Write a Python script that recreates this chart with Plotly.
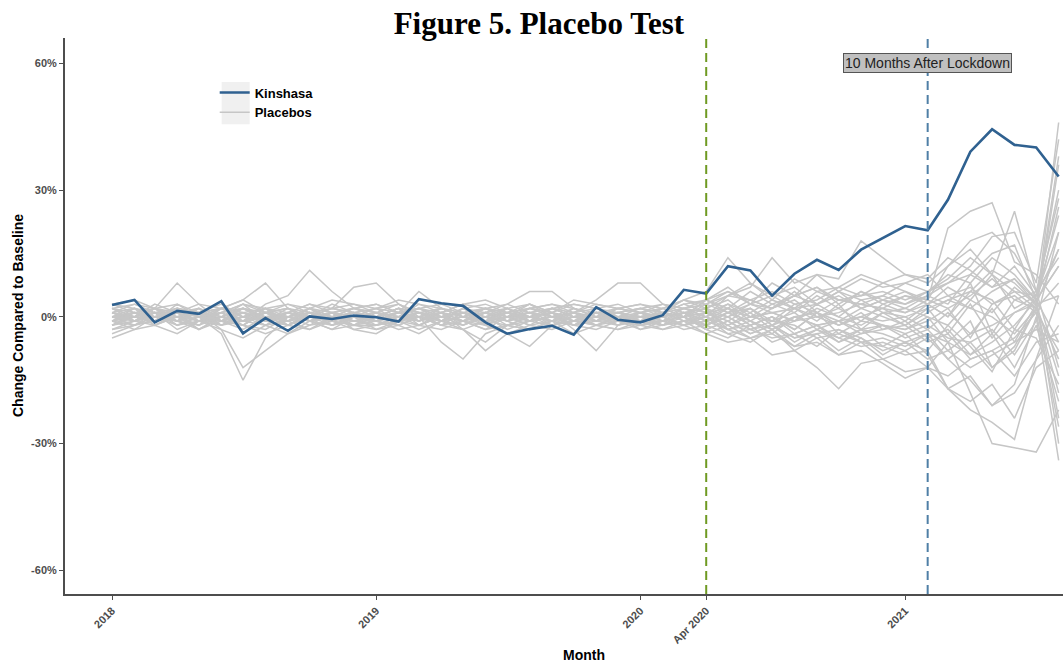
#!/usr/bin/env python3
# -*- coding: utf-8 -*-

"""
Figure 5. Placebo Test
Kinshasa vs. placebo units, monthly change compared to baseline (%).
"""

import pandas as pd
import plotly.graph_objects as go

# ---------- data ----------
MONTHS = pd.date_range("2018-01-01", periods=44, freq="MS")

KINSHASA = [
    2.8, 4.0, -1.3, 1.4, 0.7, 3.7, -3.9, -0.3, -3.3, 0.1, -0.5, 0.3,
    -0.1, -1.1, 4.2, 3.2, 2.6, -1.3, -4.0, -2.9, -2.1, -4.2, 2.3, -0.7,
    -1.3, 0.4, 6.4, 5.5, 12.0, 11.0, 5.0, 10.2, 13.5, 11.1, 15.9, 18.7,
    21.5, 20.5, 27.7, 39.1, 44.4, 40.7, 40.1, 33.2,
]

# placebo units (% change)
PLACEBOS = [
    [1, -1, 2, 0, -2, 1, 3, -1, 0, 2, -1, 1, 0, 2, -1, 1, 3, -2, 0, 1, -1, 2, 0, -2,
     1, 0, 2, 3, 1, 4, 2, 5, 3, 6, 4, 5, 3, 6, 8, 10, 7, 9, 4, 12],
    [-2, 0, 1, -3, -1, 2, 0, -2, 1, -1, -3, 0, 2, -1, 0, -2, 1, 0, -3, -1, 2, 0, 1, -1,
     -2, -1, 0, -3, -5, -2, -6, -4, -7, -3, -5, -8, -6, -4, -10, -6, -12, -8, 2, -18],
    [3, 2, 0, 1, 3, -1, 2, 1, -1, 0, 2, 3, 1, 0, 2, 3, 1, -1, 0, 2, 1, 3, 2, 0,
     2, 3, 1, 2, 4, 0, 3, 1, 5, 2, 6, 3, 5, 4, 12, 18, 20, 15, 6, 28],
    [0, 1, -1, 2, 0, -4, -15, -5, 0, 1, -2, 0, -1, 1, 0, -2, 1, 2, -1, 0, 1, -2, 0, 1,
     0, -2, 1, -3, -1, -4, -2, -5, -3, -6, -4, -2, -5, -3, -8, -4, -2, 1, 3, 5],
    [-3, -2, 0, -1, 1, -3, -12, -8, -4, -2, -1, -3, -2, 0, -1, 1, -2, 0, 1, -1, 0, -2, 1, 0,
     -1, 1, 0, 2, -3, -1, -4, 0, -2, -5, -3, -7, -4, -9, -17, -14, -21, -16, 0, -34],
    [2, 0, 3, 1, 2, 0, -1, 3, 5, 11, 6, 2, 1, 3, 0, 2, 0, 1, 2, 0, -1, 1, 3, 2,
     1, 2, 0, 4, 7, 3, 5, 2, 6, 4, 3, 5, 8, 6, 10, 8, 14, 10, 4, -6],
    [1, 3, 2, 8, 3, 2, 4, 8, 2, 1, 0, 2, 3, 1, 2, 0, -1, 2, 1, 3, 0, 1, 2, 1,
     0, 1, 3, 1, 0, 2, -1, 3, 1, -2, 0, 2, -1, 3, 0, 6, 4, -3, 5, 20],
    [-1, 2, 1, 0, -1, 1, 2, 0, 1, 3, 2, 7, 8, 3, 1, -1, 0, -2, 1, 2, 0, -1, 1, 0,
     -2, 0, 1, -1, 2, 0, 1, -1, 3, 0, -2, 1, 0, 2, 4, 2, 0, -4, 2, -10],
    [0, -2, -1, 1, -3, 0, -2, 1, -1, -3, 0, -1, -2, -1, 0, -6, -10, -4, -2, -3, -1, 0, -2, -1,
     -3, -1, -2, 0, -4, -6, -3, -8, -5, -9, -6, -10, -8, -12, -6, -18, -30, -31, -32, -22],
    [2, 1, -1, 0, 1, 2, 0, -1, 2, 0, 1, -2, 0, -1, 1, -2, -3, -8, -4, -7, -2, 0, 1, -1,
     1, -1, 0, 1, 3, -1, 2, 4, 0, 2, -1, 3, 1, 4, 2, -5, 3, 5, 1, -26],
    [-1, 0, 2, -2, 0, -1, 1, 2, -2, 0, -1, 1, 0, 2, -2, 0, -1, 1, -2, 0, 1, -3, -8, -2,
     0, -1, 2, 1, -2, 0, -1, 1, -3, -1, 0, -2, -3, -1, 2, 5, 9, 4, 2, 36],
    [1, -1, 0, 2, 1, -2, 0, 1, 2, -1, 0, 2, 1, 0, 3, 2, 0, 1, -1, 2, 3, 1, 4, 8,
     8, 3, 2, 0, 5, 8, 4, 9, 6, 7, 10, 8, 6, 4, 21, 25, 27, 13, 10, 3],
    [0, 2, -2, 1, -1, 0, 2, -1, 0, 1, -2, 0, -1, 1, 2, -1, 0, 2, 0, -2, -1, 1, 0, 2,
     3, 1, 4, 6, 14, 8, 5, 7, 3, 6, 2, 4, 3, 5, 8, 12, 19, 20, 8, 42],
    [-2, -1, 1, -1, 2, -1, -3, 0, -2, 1, 0, -1, -2, 0, -1, 1, -3, -1, 0, 1, -2, -1, 0, 1,
     -1, 2, 0, 3, 5, 7, 14, 8, 10, 6, 9, 7, 8, 10, 5, 2, 6, 9, 3, 16],
    [1, 0, -1, 3, 0, 2, 1, -2, 1, 0, 3, 1, 2, 1, -1, 0, 2, 3, 1, 0, 2, 1, -1, 1,
     0, 1, 3, 4, 6, 3, 8, 5, 10, 9, 18, 14, 10, 9, 14, 11, 7, 12, 5, 24],
    [-1, -3, 0, -2, -1, 1, -2, -3, 0, -1, -2, 0, -3, -1, -2, 0, -1, -3, -2, 0, -1, -2, -3, -1,
     -2, -3, -1, -4, -6, -5, -9, -8, -12, -17, -11, -10, -13, -12, -17, -20, -16, -24, -12, -8],
    [0, 1, -2, 0, 1, -1, 0, 2, -1, 1, 0, -2, 1, -2, 0, 1, -1, 0, 2, -1, 0, 1, -2, 0,
     -1, 0, -2, -1, -3, -5, -4, -7, -6, -9, -8, -11, -14.5, -12, -14, -10, -8, -14, -6, -4],
    [2, -1, 1, 0, -2, 2, 1, 0, -1, 2, 1, -1, 0, 2, 1, -1, 2, 0, 1, -1, 2, 0, -1, 1,
     2, 0, 1, 2, 0, 3, 1, -1, 2, 0, 4, 1, 2, 0, -2, 4, 1, 7, 3, -14],
    [-2, 1, 0, -1, 2, -2, -1, 1, 0, -2, 1, 0, -1, 0, -2, 1, 0, -1, 2, 0, -2, -1, 1, -2,
     -1, 1, -1, 0, -2, 1, -3, -1, 0, -2, 1, -3, -1, -5, -3, -9, -6, -2, 4, 12],
    [3, 1, 2, -1, 1, 3, 0, 2, 3, 1, 2, 1, 2, 3, 1, 2, 0, 2, 3, 1, 2, 3, 2, 3,
     1, 2, 4, 2, 5, 4, 6, 3, 4, 7, 5, 6, 4, 6, 9, 14, 10, 6, 5, 30],
    [-3, -1, -2, 0, -3, -1, -2, -4, -2, -3, -1, -2, -1, -3, -2, -3, -1, -2, -4, -2, -3, -1, -2, -3,
     -2, -1, -3, -2, -4, -3, -2, -5, -4, -3, -6, -5, -7, -4, -6, -9, -4, -12, -2, -20],
    [0, -1, 1, -2, 0, 1, -1, 0, -2, 1, -1, 0, 1, -1, 0, -1, 2, -1, 0, -2, 1, -1, 0, 1,
     -1, -2, 0, -3, -1, -4, -2, -6, -3, -5, -7, -6, -8, -5, -10, -15, -21, -18, -10, -2],
    [1, 2, 0, 1, -1, 0, 3, 1, -2, 0, 2, 1, 0, 1, -1, 2, 1, -2, 0, 3, 1, 0, -1, 2,
     1, -2, 1, 0, 2, -2, 0, -3, 1, -4, -1, -2, -3, 0, -6, -1, -12, -7, 2, 8],
    [-1, 0, 1, -1, -2, 0, 1, -1, 1, -1, 0, 1, -2, 0, 1, 0, -2, 1, -1, 1, 0, -2, 1, -1,
     0, -1, 1, -2, 0, -3, -1, -2, -5, -4, -6, -7, -9, -8, -17, -22, -25, -29, -10, 5],
    [0, 0, 1, 1, -1, -1, 2, 0, 0, -1, 1, 0, 1, 0, 0, 1, -1, 1, 0, 0, -1, 0, 1, 0,
     0, 1, -1, 1, 2, 0, 1, 2, 0, 1, 3, 2, 1, 3, 5, 7, 3, 6, 2, 46],
    [-1, 1, 0, -1, 1, 0, -2, 1, 2, -1, 0, -1, 0, -1, 1, 0, 1, -1, 0, 1, 0, 1, -1, 0,
     0, 0, 1, -1, 1, 2, -2, 0, 1, -1, 2, 0, -2, 1, 4, 6, 11, 8, 3, 38],
    [2, 0, -1, 1, 0, 2, -1, 1, 0, 2, -1, 1, -1, 1, 2, 0, 1, -1, 2, 0, 1, -1, 2, 0,
     1, 0, -2, 1, -1, 2, -2, 2, -1, 3, -3, 1, -2, 2, -4, 3, -5, 1, 4, -30],
    [-2, 0, -1, 1, -1, -2, 0, -1, 1, -1, 0, -2, 0, 1, 6, 2, 0, -1, 1, -1, 0, 2, 0, -1,
     -2, -1, 0, -2, 1, -1, -3, 0, -2, -1, -4, -3, -2, -6, -4, -10, -8, -5, 1, -8],
    [1, -1, 2, 0, 1, -1, 0, 1, -1, 2, 0, 1, -1, 0, 1, -1, 2, 1, 3, 6, 6, 2, 0, 1,
     2, 1, 0, 4, 2, 6, 3, 5, 7, 4, 5, 8, 10, 8, 12, 16, 10, 25, 6, 14],
    [-1, -2, 0, -1, 0, -2, 1, -1, -2, 0, -1, -2, -2, -1, -3, -1, -2, 0, -1, -3, -2, -1, -2, 0,
     -3, -2, -1, -2, 0, -3, -5, -4, -2, -6, -3, -4, -6, -8, -2, -7, -13, -3, -5, -16],
    [1, 0, 2, 1, 0, 1, 2, -1, 1, 0, 1, 2, 0, 2, 1, 0, 1, 2, 0, 1, 2, 0, 1, 1,
     2, 1, 2, 0, 3, 1, 4, 2, 3, 5, 2, 4, 2, 5, 3, 10, 15, 17, 4, -24],
    [0, -1, 0, 2, 1, -1, -2, 2, 0, -1, 1, -3, -4, -1, 0, -2, -1, -3, 0, -1, -2, 1, -1, -2,
     0, -2, -1, 0, -3, -2, 0, -4, -2, -1, -3, -2, -4, -2, -5, -6, -3, -9, -1, 20],
    [-4, -2, 1, -1, -3, 0, -1, -2, -1, 0, -2, -1, -1, -2, 0, -1, 0, -1, -2, -1, 0, -2, -1, -1,
     -1, 0, -2, -1, 1, -2, 0, -3, 1, -2, 0, -1, 0, -3, 1, -4, 2, -6, 3, 26],
    [2, 3, 1, 2, 0, 1, 3, 2, 1, 3, 1, 2, 3, 1, 2, 1, 3, 2, 1, 2, 3, 2, 1, 2,
     1, 3, 2, 4, 1, 3, 2, 6, 1, 4, 3, 2, 5, 3, 0, 8, -4, 4, 6, -12],
    [-5, -3, -2, -4, -1, -3, -5, -2, -4, -1, -3, -2, -3, -2, -4, -1, -3, -6, -2, -3, -1, -4, -2, -3,
     -1, -3, -2, -4, -2, -5, -3, -7, -4, -8, -5, -9, -6, -10, -8, -12, -9, -6, -3, -6],
    [3, 4, 2, 3, 1, 2, 4, 1, 3, 2, 4, 3, 2, 4, 3, 1, 3, 4, 2, 3, 1, 4, 3, 2,
     3, 2, 4, 3, 6, 4, 2, 5, 7, 3, 6, 4, 6, 3, 7, 4, 10, 2, 5, 16],
]

LOCKDOWN = "2020-04-01"
TEN_MONTHS_AFTER = "2021-02-01"

Y_TICKS = [-60, -30, 0, 30, 60]
Y_TICK_TEXT = ["-60%", "-30%", "0%", "30%", "60%"]
X_TICKS = ["2018-01-01", "2019-01-01", "2020-01-01", "2020-04-01", "2021-01-01"]
X_TICK_TEXT = ["2018", "2019", "2020", "Apr 2020", "2021"]

# ---------- colours / fonts ----------
BLUE = "#2F6190"
GREY = "#C6C6C6"
GREEN_DASH = "#6F9A22"
BLUE_DASH = "#4F7FA6"
AXIS = "#4D4D4D"
SANS = "Liberation Sans, Arial"

fig = go.Figure()

# 安慰剂线（灰色）
for i, vals in enumerate(PLACEBOS):
    fig.add_trace(go.Scatter(
        x=MONTHS, y=vals, mode="lines",
        line=dict(color=GREY, width=1.5),
        name="Placebos", legendgroup="placebo",
        showlegend=(i == 0), legendrank=2,
        hoverinfo="skip",
    ))

# Kinshasa
fig.add_trace(go.Scatter(
    x=MONTHS, y=KINSHASA, mode="lines",
    line=dict(color=BLUE, width=2.6),
    name="Kinshasa", legendrank=1,
))

# 竖虚线
fig.add_shape(type="line", xref="x", yref="paper", x0=LOCKDOWN, x1=LOCKDOWN,
              y0=0, y1=1, line=dict(color=GREEN_DASH, width=2, dash="9px,5px"))
fig.add_shape(type="line", xref="x", yref="paper", x0=TEN_MONTHS_AFTER, x1=TEN_MONTHS_AFTER,
              y0=0, y1=1, line=dict(color=BLUE_DASH, width=2, dash="9px,5px"))

# 图例键的浅灰底（ggplot 风格）
fig.add_shape(type="rect", xref="paper", yref="paper",
              x0=0.157, x1=0.185, y0=0.845, y1=0.921,
              fillcolor="#F0F0F0", line=dict(width=0), layer="below")

fig.add_annotation(
    x=TEN_MONTHS_AFTER, y=60, xref="x", yref="y",
    text="10 Months After Lockdown", showarrow=False,
    font=dict(family=SANS, size=14, color="#222222"),
    bgcolor="#C0C0C0", bordercolor="#555555", borderwidth=1, borderpad=1,
)

# 轴标题用注释精确定位
fig.add_annotation(
    x=0.52, y=0, xref="paper", yref="paper", yshift=-61, yanchor="middle",
    text="Month", showarrow=False,
    font=dict(family=SANS, size=14, color="black", weight="bold"),
)
fig.add_annotation(
    x=0, y=0.5, xref="paper", yref="paper", xshift=-47, xanchor="center",
    text="Change Compared to Baseline", showarrow=False, textangle=-90,
    font=dict(family=SANS, size=14, color="black", weight="bold"),
)

fig.update_xaxes(
    range=["2017-10-28", "2021-08-07"], automargin=False,
    tickvals=X_TICKS, ticktext=X_TICK_TEXT, tickangle=-45,
    tickfont=dict(family=SANS, size=11, color=AXIS, weight="bold"),
    ticks="outside", ticklen=4, tickcolor=AXIS,
    showline=True, linecolor=AXIS, linewidth=2,
    showgrid=False, zeroline=False,
)
fig.update_yaxes(
    range=[-65.6, 66.0], automargin=False,
    tickvals=Y_TICKS, ticktext=Y_TICK_TEXT,
    tickfont=dict(family=SANS, size=11, color=AXIS, weight="bold"),
    ticks="outside", ticklen=4, tickcolor=AXIS,
    showline=True, linecolor=AXIS, linewidth=2,
    showgrid=False, zeroline=False,
)

fig.update_layout(
    width=1063, height=666,
    margin=dict(l=65, r=0, t=38, b=72),
    plot_bgcolor="white", paper_bgcolor="white",
    title=dict(text="<b>Figure 5. Placebo Test</b>", x=0.507, xanchor="center",
               y=0.965, yanchor="middle", automargin=False,
               font=dict(family="Liberation Serif, Times New Roman", size=31, color="black")),
    legend=dict(x=0.150, y=0.929, xanchor="left", yanchor="top",
                bgcolor="rgba(0,0,0,0)", tracegroupgap=0,
                font=dict(family=SANS, size=13, color="black", weight="bold")),
    showlegend=True,
)

# 去掉 body 默认的 8px 边距，让图正好铺满窗口
fig.write_html("out.html", config={"displayModeBar": False},
               post_script="document.body.style.margin='0';")
